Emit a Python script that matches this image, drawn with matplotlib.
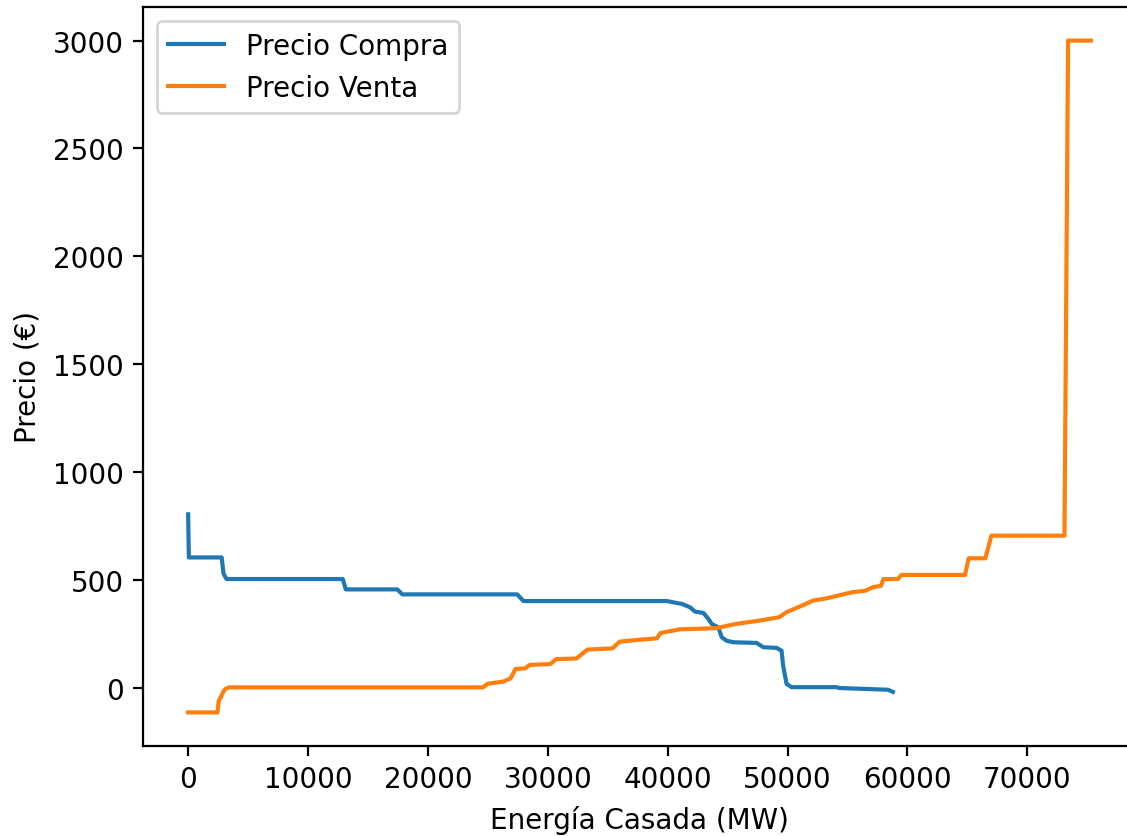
import matplotlib
matplotlib.use("Agg")
import matplotlib.pyplot as plt

# Curva de compra (demanda agregada)
compra_energia = [0, 60, 2800, 2950, 3200, 12900, 13150, 17450, 17870, 27450, 27970,
                  39930, 40480, 41170, 41870, 42280, 42980, 43400, 43670, 44230, 44510,
                  44920, 45470, 47420, 47970, 49080, 49500, 49630, 49920, 50330, 54080,
                  54350, 58380, 58790]
compra_precio = [805, 605, 605, 530, 505, 505, 457, 457, 434, 434, 403,
                 403, 397, 390, 374, 354, 348, 320, 297, 281, 235,
                 219, 212, 209, 189, 186, 173, 103, 19, 4, 4,
                 0, -8, -18]

# Curva de venta (oferta agregada)
venta_energia = [0, 2450, 2550, 2700, 2900, 3100, 3400, 24600, 25000, 26300, 26900,
                 27300, 28100, 28500, 30200, 30700, 32400, 33300, 35400, 36000, 37700,
                 39100, 39400, 41000, 44000, 45700, 47600, 49300, 49900, 51500, 52100,
                 53200, 55400, 56500, 57100, 57800, 58000, 59200, 59500, 64800, 65100,
                 66500, 67000, 73100, 73400, 75300]
venta_precio = [-113, -113, -60, -45, -20, -5, 3, 3, 20, 30, 45,
                88, 91, 107, 111, 134, 137, 178, 184, 215, 224,
                230, 255, 272, 277, 297, 312, 328, 351, 389, 405,
                415, 444, 451, 467, 474, 505, 505, 524, 524, 601,
                601, 706, 706, 3000, 3000]

fig = plt.figure(figsize=(1127 / 200, 837 / 200), dpi=200)
ax = fig.add_axes([143 / 1127, 90 / 837, 993 / 1127, 739 / 837])

ax.plot(compra_energia, compra_precio, label='Precio Compra')
ax.plot(venta_energia, venta_precio, label='Precio Venta')
ax.set_xlabel('Energía Casada (MW)')
ax.set_ylabel('Precio (€)')
ax.legend(loc='upper left')

fig.savefig('out.png', dpi=200)
